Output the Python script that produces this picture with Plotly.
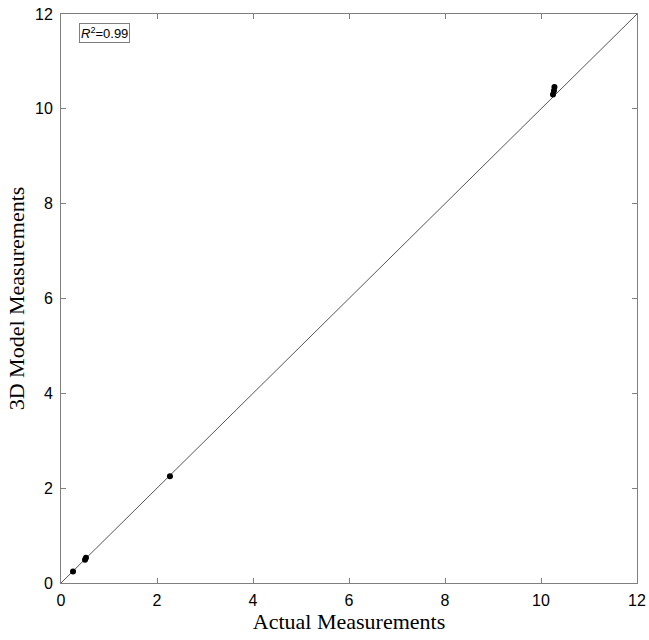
import plotly.graph_objects as go

actual = [0.25, 0.50, 0.52, 2.27, 10.25, 10.27, 10.28]
model = [0.24, 0.49, 0.53, 2.25, 10.30, 10.38, 10.46]
line_x = [0, 12]
line_y = [0, 12]
tick_vals = [0, 2, 4, 6, 8, 10, 12]
r2_text = "<i>R</i><sup>2</sup>=0.99"

fig = go.Figure()
fig.add_trace(go.Scatter(x=line_x, y=line_y, mode="lines",
                         line=dict(color="#555555", width=1), showlegend=False,
                         hoverinfo="skip"))
fig.add_trace(go.Scatter(x=actual, y=model, mode="markers",
                         marker=dict(color="black", size=6), showlegend=False))

axis_common = dict(range=[0, 12], tickvals=tick_vals, ticks="inside", ticklen=5,
                   tickcolor="#808080", showline=True, linecolor="#808080", linewidth=1,
                   mirror="allticks", showgrid=False, zeroline=False, automargin=False,
                   ticklabeloverflow="allow",
                   tickfont=dict(family="Arial, Liberation Sans", size=16, color="black"))

fig.update_xaxes(**axis_common, ticklabelstandoff=3,
                 title=dict(text="Actual Measurements", standoff=4,
                            font=dict(family="Times New Roman, Liberation Serif", size=22, color="black")))
fig.update_yaxes(**axis_common, ticklabelstandoff=4,
                 title=dict(text="3D Model Measurements", standoff=4,
                            font=dict(family="Times New Roman, Liberation Serif", size=22, color="black")))

fig.add_annotation(x=0.031, y=0.984, xref="paper", yref="paper", xanchor="left", yanchor="top",
                   text=r2_text, showarrow=False,
                   font=dict(family="Arial, Liberation Sans", size=13, color="black"),
                   bordercolor="#808080", borderwidth=1, borderpad=1, bgcolor="white")

fig.update_layout(template="none", width=649, height=640,
                  margin=dict(l=61, r=12, t=14, b=57),
                  plot_bgcolor="white", paper_bgcolor="white")

fig.write_html("out.html", config={"displayModeBar": False},
               post_script="document.body.style.margin='0';")
